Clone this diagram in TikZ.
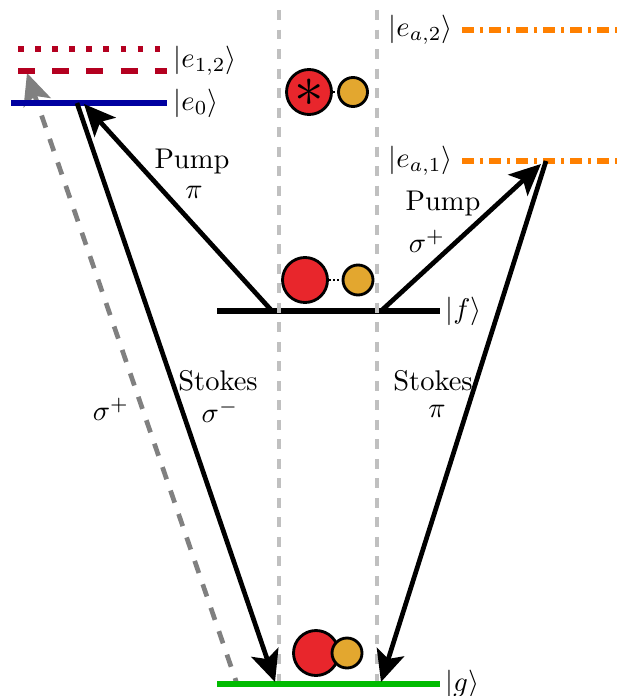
\documentclass[tikz,border=0pt]{standalone}
\usetikzlibrary{arrows.meta}
\definecolor{cRed}{HTML}{E8262C}
\definecolor{cGold}{HTML}{E3A72F}
\definecolor{cDark}{HTML}{B40020}
\definecolor{cBlue}{HTML}{0000A0}
\definecolor{cGreen}{HTML}{00BB00}
\definecolor{cOrange}{HTML}{FF8000}
\definecolor{cGray}{HTML}{808080}
\definecolor{cGuide}{HTML}{C0C0C0}
\tikzset{
  guide/.style={draw=cGuide,line width=1.1pt,dash pattern=on 3.5pt off 3.35pt},
  level/.style={line width=2pt},
  trans/.style={line width=1.65pt,-{Stealth[length=11pt,width=10pt,inset=2.5pt]}},
  big/.style={circle,draw=black,line width=1pt,fill=cRed,minimum size=45\pxu,inner sep=0pt},
  small/.style={circle,draw=black,line width=1pt,fill=cGold,minimum size=30\pxu,inner sep=0pt},
  lab/.style={inner sep=0pt,align=center},
  ket/.style={inner sep=0pt,anchor=west},
  bond/.style={line width=0.7pt,dash pattern=on 0.7pt off 0.8pt}
}
\newcommand{\pxu}{*0.351pt}
\begin{document}
\begin{tikzpicture}[x=0.351pt,y=-0.351pt]
\useasboundingbox (0,0) rectangle (623,696);
% levels
\coordinate (a1) at (18,49); \coordinate (a2) at (167,49);
\coordinate (b1) at (18,71); \coordinate (b2) at (167,71);
\coordinate (c1) at (11,103); \coordinate (c2) at (167,103);
\coordinate (f1) at (217,311); \coordinate (f2) at (440,311);
\coordinate (h1) at (217,684); \coordinate (h2) at (440,684);
\coordinate (d1) at (462,30); \coordinate (d2) at (617,30);
\coordinate (e1) at (462,161); \coordinate (e2) at (617,161);
% gray arrow
\coordinate (gs) at (237,684); \coordinate (gt) at (27,73);
\draw[line width=1.65pt,draw=cGray,dash pattern=on 4.5pt off 4.2pt,dash phase=2.3pt,-{Stealth[length=11pt,width=10pt,inset=2.5pt,fill=cGray]}] (gs) -- (gt);
\draw[level,draw=cDark,dash pattern=on 2pt off 4pt] (a1) -- (a2);
\draw[level,draw=cDark,dash pattern=on 6pt off 6pt] (b1) -- (b2);
\draw[level,draw=cBlue] (c1) -- (c2);
\draw[level,draw=black] (f1) -- (f2);
\draw[level,draw=cGreen] (h1) -- (h2);
\draw[level,draw=cOrange,dash pattern=on 4.2pt off 2.1pt on 1.1pt off 2.1pt] (d1) -- (d2);
\draw[level,draw=cOrange,dash pattern=on 4.2pt off 2.1pt on 1.1pt off 2.1pt] (e1) -- (e2);
% guides
\coordinate (g1t) at (279,10); \coordinate (g1b) at (279,681);
\coordinate (g2t) at (377,10); \coordinate (g2b) at (377,681);
\draw[guide] (g1t) -- (g1b);
\draw[guide] (g2t) -- (g2b);
% transitions
\coordinate (p1s) at (272,311); \coordinate (p1t) at (84,104);
\coordinate (s1s) at (77,103); \coordinate (s1t) at (275,682);
\coordinate (p2s) at (381,311); \coordinate (p2t) at (541,164);
\coordinate (s2s) at (546,161); \coordinate (s2t) at (381,682);
\draw[trans] (p1s) -- (p1t);
\draw[trans] (s1s) -- (s1t);
\draw[trans] (p2s) -- (p2t);
\draw[trans] (s2s) -- (s2t);
% atoms
\node[big] (A) at (309,92) {};
\node[inner sep=0pt] (Astar) at (309,93) {\fontsize{22}{26}\selectfont$\ast$};
\node[small,minimum size=29\pxu] (Aa) at (353,92) {};
\draw[bond] (A) -- (Aa);
\node[big] (F) at (305,280) {};
\node[small] (Fa) at (358,280) {};
\draw[bond] (F) -- (Fa);
\node[big] (G) at (316,653) {};
\node[small] (Ga) at (347,653) {};
% kets
\node[ket] (k1) at (173,61) {$|e_{1,2}\rangle$};
\node[ket] (k2) at (173,103) {$|e_0\rangle$};
\node[ket] (k3) at (445,311) {$|f\rangle$};
\node[ket] (k4) at (445,684) {$|g\rangle$};
\node[ket] (k5) at (388,30) {$|e_{a,2}\rangle$};
\node[ket] (k6) at (388,161) {$|e_{a,1}\rangle$};
% labels
\node[lab] (l1) at (192,162) {Pump};
\node[lab] (l2) at (194,192) {$\pi$};
\node[lab] (l3) at (218,381) {Stokes};
\node[lab] (l4) at (220,411) {$\sigma^-$};
\node[lab] (l5) at (111,409) {$\sigma^+$};
\node[lab] (l6) at (443,204) {Pump};
\node[lab] (l7) at (427,241) {$\sigma^+$};
\node[lab] (l8) at (433,381) {Stokes};
\node[lab] (l9) at (437,411) {$\pi$};
\end{tikzpicture}
\end{document}
